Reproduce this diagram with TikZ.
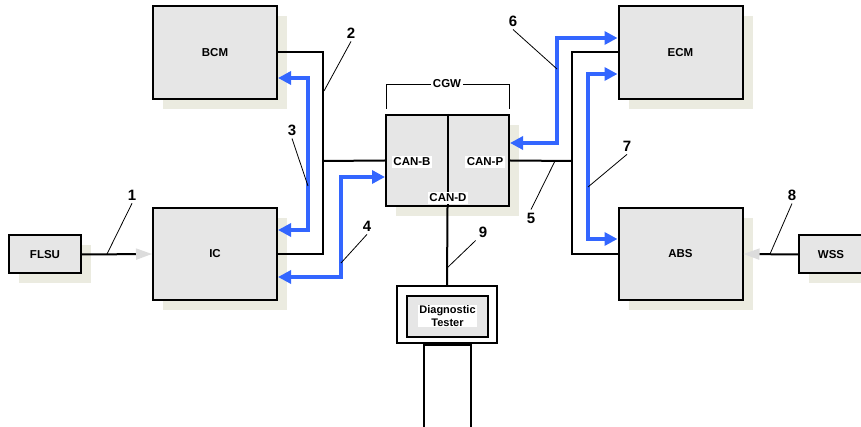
\documentclass[tikz,border=0pt]{standalone}
\usepackage{fontspec}
\setmainfont{Liberation Sans}
\usetikzlibrary{arrows.meta,shadows}
\definecolor{boxfill}{HTML}{E6E6E6}
\definecolor{shadowc}{HTML}{EBEBE0}
\definecolor{busblue}{HTML}{3366FF}
\definecolor{tipgray}{HTML}{DCDCDC}
\begin{document}
\begin{tikzpicture}[x=1pt,y=-1pt,
  ecu/.style={draw=black,line width=2pt,fill=boxfill,inner sep=0pt,
    font=\bfseries\fontsize{11.5}{13}\selectfont,
    general shadow={shadow xshift=10pt,shadow yshift=-10pt,fill=shadowc}},
  plainbox/.style={draw=black,line width=2pt,inner sep=0pt},
  bus/.style={line width=2pt,line join=miter},
  canmsg/.style={line width=4pt,draw=busblue,line join=miter,
    {Triangle[length=13pt,width=13pt]}-{Triangle[length=13pt,width=13pt]}},
  sensor/.style={line width=2pt,-{Triangle[length=16pt,width=11pt,color=tipgray]}},
  leader/.style={line width=0.8pt},
  num/.style={font=\bfseries\fontsize{15}{17}\selectfont,inner sep=3pt},
  tag/.style={fill=white,inner sep=1.5pt,font=\bfseries\fontsize{11.5}{13}\selectfont}
]
\useasboundingbox (0,0) rectangle (861,427);

% ECUs
\node[ecu,minimum width=124pt,minimum height=93pt] (bcm) at (215,52.5) {BCM};
\node[ecu,minimum width=124pt,minimum height=92pt] (ic) at (215,254) {IC};
\node[ecu,minimum width=124pt,minimum height=93pt] (ecm) at (680.5,52.5) {ECM};
\node[ecu,minimum width=124pt,minimum height=92pt] (abs) at (680.5,254) {ABS};
\node[ecu,minimum width=72pt,minimum height=38pt] (flsu) at (45,254.5) {FLSU};
\node[ecu,minimum width=64pt,minimum height=38pt] (wss) at (831,254.5) {WSS};
\node[ecu,minimum width=123pt,minimum height=91pt] (cgw) at (447.5,160.5) {};

% CGW internals
\draw[line width=2pt] (cgw.north) -- (cgw.south);
\node[tag] (canb) at (412,162) {CAN-B};
\node[tag] (canp) at (485,162) {CAN-P};
\node[tag] (cand) at (448,198) {CAN-D};

% CGW bracket
\coordinate (brl) at (386,109);
\coordinate (brr) at (509,109);
\draw[line width=1pt] (brl) -- (386,85) -- (509,85) -- (brr);
\node[tag] (cgwlbl) at (447,84) {CGW};

% Diagnostic tester
\node[plainbox,fill=white,minimum width=100pt,minimum height=57pt] (tester) at (447,314.5) {};
\node[plainbox,fill=boxfill,minimum width=81pt,minimum height=41pt] (testin) at (447.5,316.5) {};
\node[fill=white,inner sep=1pt,align=center,font=\bfseries\fontsize{11}{12.5}\selectfont] (testlbl) at (447.5,316) {Diagnostic\\Tester};
\node[plainbox,fill=white,minimum width=47pt,minimum height=86pt,anchor=north] (handle) at (tester.south) {};

% buses
\coordinate (jl) at (323,161);
\coordinate (jr) at (572,161);
\draw[bus] (bcm.east) -| (jl);
\draw[bus] (ic.east) -| (jl);
\draw[bus] (jl) -- (cgw.west);
\draw[bus] (ecm.west) -| (jr);
\draw[bus] (abs.west) -| (jr);
\draw[bus] (jr) -- (cgw.east);
\draw[bus] (cgw.south) -- (tester.north);

% sensor inputs
\draw[sensor] (flsu.east) -- (ic.west);
\draw[sensor] (wss.west) -- (abs.east);

% CAN messages
\draw[canmsg] (bcm.east |- 0,78) -- (308,78) -- (308,230) -- (ic.east |- 0,230);
\draw[canmsg] (ic.east |- 0,277) -- (341,277) -- (341,177) -- (cgw.west |- 0,177);
\draw[canmsg] (cgw.east |- 0,143) -- (557,143) -- (557,38) -- (ecm.west |- 0,38);
\draw[canmsg] (ecm.west |- 0,74) -- (588,74) -- (588,239) -- (abs.west |- 0,239);

% numbered labels
\node[num] (n1) at (132,195) {1};
\node[num] (n2) at (351,33) {2};
\node[num] (n3) at (292,130) {3};
\node[num] (n4) at (367,226) {4};
\node[num] (n5) at (531,218) {5};
\node[num] (n6) at (513,21) {6};
\node[num] (n7) at (627,146) {7};
\node[num] (n8) at (792,195) {8};
\node[num] (n9) at (483,232) {9};
\coordinate (p1) at (107,254);
\coordinate (p2) at (324,91);
\coordinate (p3) at (308,186);
\coordinate (p4) at (341,263);
\coordinate (p5) at (555,161);
\coordinate (p6) at (557,69);
\coordinate (p7) at (588,187);
\coordinate (p8) at (770,254);
\coordinate (p9) at (447,268);
\draw[leader] (n1.south) -- (p1);
\draw[leader] (n2.south) -- (p2);
\draw[leader] (n3.south) -- (p3);
\draw[leader] (n4.south) -- (p4);
\draw[leader] (n5.north) -- (p5);
\draw[leader] (n6.south) -- (p6);
\draw[leader] (n7.south) -- (p7);
\draw[leader] (n8.south) -- (p8);
\draw[leader] (n9.south west) -- (p9);
\end{tikzpicture}
\end{document}
